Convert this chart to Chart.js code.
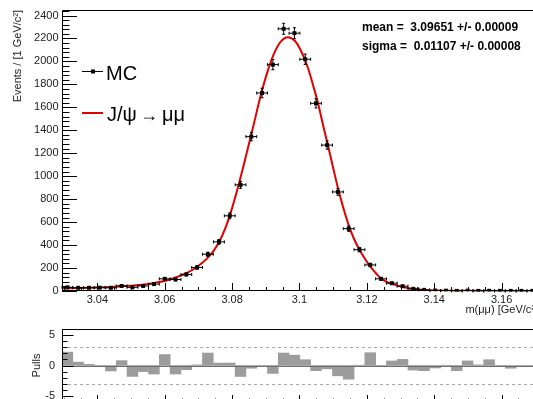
<!DOCTYPE html>
<html>
<head>
<meta charset="utf-8">
<script src="https://cdn.jsdelivr.net/npm/chart.js@4.4.0/dist/chart.umd.min.js"></script>
<style>
  html, body { margin: 0; padding: 0; background: #fff; overflow: hidden; }
  #wrap { position: relative; width: 533px; height: 399px; overflow: hidden; background: #fff; }
  #main { position: absolute; left: 0; top: 0; }
  #pulls { position: absolute; left: 0; top: 320px; }
</style>
</head>
<body>
<div id="wrap">
  <canvas id="main" width="545" height="320"></canvas>
  <canvas id="pulls" width="545" height="90"></canvas>
</div>
<script>
// Dimuon invariant mass histogram (bin centres in GeV/c^2)
const massBins = [
  3.0311, 3.0343, 3.0375, 3.0407, 3.0440, 3.0472, 3.0504, 3.0536, 3.0568, 3.0600, 3.0632,
  3.0664, 3.0696, 3.0728, 3.0761, 3.0793, 3.0825, 3.0857, 3.0889, 3.0921, 3.0953, 3.0985,
  3.1017, 3.1049, 3.1082, 3.1114, 3.1146, 3.1178, 3.1210, 3.1242, 3.1274, 3.1306, 3.1338,
  3.1370, 3.1403, 3.1435, 3.1467, 3.1499, 3.1531, 3.1563, 3.1595, 3.1627, 3.1659, 3.1691
];
// MC events per bin
const mcCounts = [
  32, 28, 28, 29, 28, 44, 32, 44, 60, 106, 100,
  144, 205, 320, 428, 655, 925, 1345, 1725, 1972, 2284, 2246,
  2019, 1635, 1271, 863, 543, 360, 227, 106, 68, 42, 19,
  10, 4, 3, 1, 3, 1, 2, 1, 1, 1, 1
];
// (data - fit) / error per bin
const pullValues = [
  2.2, 0.55, 0.2, -0.2, -0.9, 0.8, -1.8, -1.0, -1.4, 1.8, -1.4,
  -0.7, 0.1, 2.05, 0.4, 0.4, -1.8, -0.45, -0.2, -1.3, 2.05, 1.7,
  0.95, -0.85, -0.55, -1.7, -2.25, 0.05, 2.1, -0.05, 0.75, 1.0, -0.75,
  -0.85, -0.4, 0.05, -0.85, 0.75, 0.1, 0.95, -0.15, -0.45, -0.2, -0.1
];
// Fitted J/psi line shape, sampled along the mass axis
const fitMass = [
  3.0294, 3.0347, 3.0400, 3.0451, 3.0496, 3.0540, 3.0576, 3.0606, 3.0633, 3.0659, 3.0683,
  3.0707, 3.0725, 3.0745, 3.0763, 3.0781, 3.0796, 3.0817, 3.0838, 3.0862, 3.0885, 3.0906,
  3.0927, 3.0945, 3.09651, 3.0986, 3.1004, 3.1025, 3.1043, 3.1055, 3.1072, 3.1084, 3.1099,
  3.1114, 3.1132, 3.1147, 3.1164, 3.1179, 3.1197, 3.1212, 3.1227, 3.1241, 3.1259, 3.1277,
  3.1301, 3.1330, 3.1360, 3.1405, 3.1480, 3.1595, 3.1709
];
const fitValue = [
  22, 26, 31, 37, 46, 57, 75, 92, 118, 148, 185,
  235, 282, 350, 435, 556, 685, 900, 1140, 1425, 1705, 1920,
  2085, 2175, 2211, 2180, 2095, 1945, 1765, 1635, 1420, 1275, 1085,
  900, 705, 565, 440, 355, 268, 205, 155, 110, 80, 60,
  38, 22, 12, 5, 2, 1, 1
];
const fitMean = '3.09651', fitMeanErr = '0.00009';
const fitSigma = '0.01107', fitSigmaErr = '0.00008';

const massMin = 3.0295, massMax = 3.1708, binWidth = 0.003211;
const FONT = "'Liberation Sans', Arial, Helvetica, sans-serif";
Chart.defaults.font.family = FONT;
Chart.defaults.color = '#222';

// fixed axis sizes so both panels share the same horizontal frame
const fixY = w => s => { s.width = w; s.paddingTop = 0; s.paddingBottom = 0; };
const fixX = h => s => { s.height = h; s.paddingLeft = 0; s.paddingRight = 0; };
const crisp = v => Math.round(v) + 0.5;

function drawXTicks(ctx, x, yBase, majLen, minLen) {
  ctx.beginPath();
  for (let k = 0; k <= 40; k++) {
    const v = 3.0 + k * 0.005;
    if (v < massMin || v > massMax) continue;
    const isMajor = k % 4 === 0;
    const px = crisp(x.getPixelForValue(v));
    ctx.moveTo(px, yBase);
    ctx.lineTo(px, yBase - (isMajor ? majLen : minLen));
  }
  ctx.stroke();
}

const mainDecor = {
  id: 'mainDecor',
  afterDatasetsDraw(chart) {
    const { ctx, scales: { x, y } } = chart;
    ctx.save();
    ctx.strokeStyle = '#000';
    ctx.lineWidth = 1;
    ctx.beginPath();
    massBins.forEach((m, i) => {
      const n = mcCounts[i], e = Math.sqrt(n);
      const px = x.getPixelForValue(m), py = y.getPixelForValue(n);
      const xl = x.getPixelForValue(m - binWidth / 2), xr = x.getPixelForValue(m + binWidth / 2);
      const yt = y.getPixelForValue(n + e), yb = y.getPixelForValue(Math.max(n - e, 0));
      ctx.moveTo(xl, py); ctx.lineTo(xr, py);
      ctx.moveTo(px, yt); ctx.lineTo(px, yb);
      ctx.moveTo(xl, py - 1.5); ctx.lineTo(xl, py + 1.5);
      ctx.moveTo(xr, py - 1.5); ctx.lineTo(xr, py + 1.5);
      ctx.moveTo(px - 1.5, yt); ctx.lineTo(px + 1.5, yt);
      ctx.moveTo(px - 1.5, yb); ctx.lineTo(px + 1.5, yb);
    });
    ctx.stroke();
    ctx.restore();
  },
  afterDraw(chart) {
    const { ctx, chartArea: a, scales: { x, y } } = chart;
    ctx.save();
    ctx.strokeStyle = '#000';
    ctx.lineWidth = 1;
    // frame
    ctx.beginPath();
    ctx.moveTo(crisp(a.left), a.bottom);
    ctx.lineTo(crisp(a.left), crisp(a.top));
    ctx.lineTo(a.right, crisp(a.top));
    ctx.lineTo(a.right, a.bottom);
    ctx.moveTo(a.left, a.bottom - 0.5);
    ctx.lineTo(a.right, a.bottom - 0.5);
    ctx.stroke();
    // y ticks (inside the frame)
    ctx.beginPath();
    for (let v = 0; v <= 2440; v += 40) {
      const py = crisp(y.getPixelForValue(v));
      ctx.moveTo(a.left, py);
      ctx.lineTo(a.left + (v % 200 === 0 ? 15 : 7.5), py);
    }
    ctx.stroke();
    drawXTicks(ctx, x, a.bottom, 8, 4);

    // legend
    ctx.beginPath();
    ctx.moveTo(82, 71.5); ctx.lineTo(103, 71.5);
    ctx.stroke();
    ctx.fillStyle = '#000';
    ctx.fillRect(91, 69.5, 4, 4);
    ctx.strokeStyle = '#e00000';
    ctx.lineWidth = 2;
    ctx.beginPath();
    ctx.moveTo(82, 113); ctx.lineTo(103, 113);
    ctx.stroke();
    ctx.fillStyle = '#000';
    ctx.textBaseline = 'alphabetic';
    ctx.textAlign = 'left';
    ctx.font = '20px ' + FONT;
    ctx.fillText('MC', 106, 80);
    ctx.fillText('J/ψ', 107, 121);
    ctx.font = '18px ' + FONT;
    ctx.fillText('→', 140, 121);
    ctx.font = '20px ' + FONT;
    ctx.fillText('μμ', 162, 121);

    // fit results
    ctx.font = 'bold 12px ' + FONT;
    ctx.fillText('mean =  ' + fitMean + ' +/- ' + fitMeanErr, 362, 31);
    ctx.fillText('sigma =  ' + fitSigma + ' +/- ' + fitSigmaErr, 362, 50);
    ctx.restore();
  }
};

const pullDecor = {
  id: 'pullDecor',
  afterDatasetsDraw(chart) {
    const { ctx, chartArea: a, scales: { x, y } } = chart;
    ctx.save();
    ctx.lineWidth = 1;
    // zero line
    ctx.strokeStyle = '#6e6e6e';
    ctx.beginPath();
    ctx.moveTo(a.left, crisp(y.getPixelForValue(0)));
    ctx.lineTo(a.right, crisp(y.getPixelForValue(0)));
    ctx.stroke();
    // +-3 sigma guides
    ctx.strokeStyle = '#a8a8a8';
    ctx.setLineDash([3, 3]);
    ctx.beginPath();
    [3, -3].forEach(v => {
      const py = crisp(y.getPixelForValue(v));
      ctx.moveTo(a.left, py); ctx.lineTo(a.right, py);
    });
    ctx.stroke();
    ctx.setLineDash([]);
    // frame and ticks
    ctx.strokeStyle = '#000';
    ctx.beginPath();
    ctx.moveTo(crisp(a.left), a.bottom);
    ctx.lineTo(crisp(a.left), crisp(a.top));
    ctx.lineTo(a.right, crisp(a.top));
    ctx.stroke();
    ctx.beginPath();
    for (let v = -6; v <= 6; v++) {
      const py = crisp(y.getPixelForValue(v));
      ctx.moveTo(a.left, py);
      ctx.lineTo(a.left + (v % 5 === 0 ? 11.5 : 5.5), py);
    }
    ctx.stroke();
    drawXTicks(ctx, x, a.bottom, 7, 3.5);
    ctx.restore();
  }
};

new Chart(document.getElementById('main'), {
  type: 'scatter',
  data: {
    datasets: [
      {
        label: 'MC',
        data: massBins.map((m, i) => ({ x: m, y: mcCounts[i] })),
        pointStyle: 'rect', pointRadius: 2.8, pointBorderWidth: 0,
        backgroundColor: '#000', borderColor: '#000',
        showLine: false, order: 0
      },
      {
        label: 'J/ψ→μμ', type: 'line',
        data: fitMass.map((m, i) => ({ x: m, y: fitValue[i] })),
        borderColor: '#e00000', borderWidth: 2, pointRadius: 0,
        showLine: true, fill: false, cubicInterpolationMode: 'monotone', order: 1
      }
    ]
  },
  options: {
    responsive: false, animation: false, devicePixelRatio: 1, events: [],
    layout: { padding: { top: 10, right: 7, left: 0, bottom: 0 } },
    plugins: { legend: { display: false }, tooltip: { enabled: false } },
    scales: {
      x: {
        type: 'linear', min: massMin, max: massMax,
        grid: { display: false, drawTicks: false }, border: { display: false },
        ticks: { stepSize: 0.02, includeBounds: false, padding: 2, autoSkip: false, maxRotation: 0,
                 font: { size: 11 }, callback: v => String(+v.toFixed(3)) },
        title: { display: true, text: 'm(μμ) [GeV/c²]', align: 'end', font: { size: 11 },
                 padding: { top: 0, bottom: 3 } },
        afterFit: fixX(29)
      },
      y: {
        min: 0, max: 2448,
        grid: { display: false, drawTicks: false }, border: { display: false },
        ticks: { stepSize: 200, includeBounds: false, padding: 3.5, autoSkip: false,
                 font: { size: 11 }, callback: v => String(v) },
        title: { display: true, text: 'Events / [1 GeV/c²]', align: 'end', font: { size: 11 },
                 padding: { top: 11, bottom: 0 } },
        afterFit: fixY(62)
      }
    }
  },
  plugins: [mainDecor]
});

new Chart(document.getElementById('pulls'), {
  type: 'bar',
  data: {
    datasets: [{
      label: 'Pulls',
      data: massBins.map((m, i) => ({ x: m, y: pullValues[i] })),
      backgroundColor: '#9c9c9c', borderWidth: 0,
      barPercentage: 1, categoryPercentage: 1
    }]
  },
  options: {
    responsive: false, animation: false, devicePixelRatio: 1, events: [],
    layout: { padding: { top: 9, right: 7, left: 0, bottom: 0 } },
    plugins: { legend: { display: false }, tooltip: { enabled: false } },
    scales: {
      x: {
        type: 'linear', min: massMin, max: massMax, offset: false,
        grid: { display: false, drawTicks: false }, border: { display: false },
        ticks: { display: false },
        afterFit: fixX(8)
      },
      y: {
        min: -6, max: 6,
        grid: { display: false, drawTicks: false }, border: { display: false },
        ticks: { stepSize: 5, includeBounds: false, padding: 7, autoSkip: false,
                 font: { size: 11 }, callback: v => String(v) },
        title: { display: true, text: 'Pulls', font: { size: 11 }, padding: { top: 30, bottom: 0 } },
        afterFit: fixY(62)
      }
    }
  },
  plugins: [pullDecor]
});
</script>
</body>
</html>
